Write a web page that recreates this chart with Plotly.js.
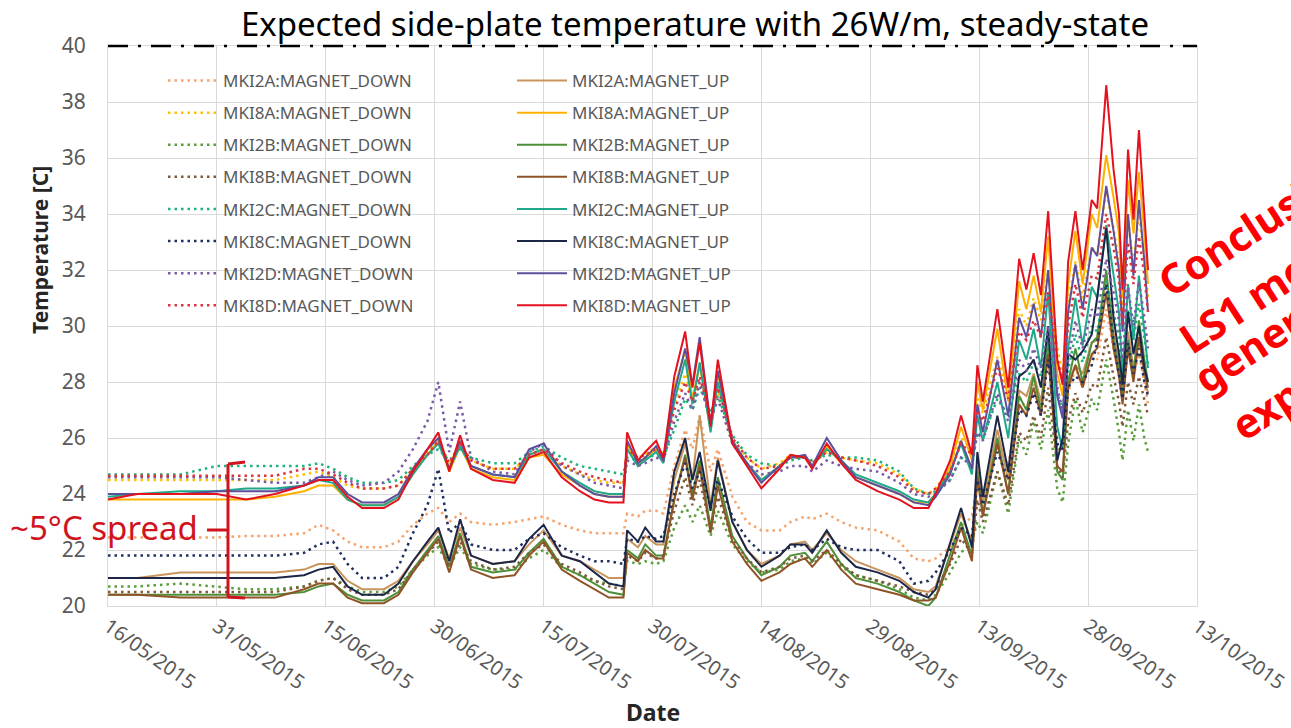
<!DOCTYPE html>
<html>
<head>
<meta charset="utf-8">
<script src="https://cdn.plot.ly/plotly-3.0.1.min.js"></script>
<style>html,body{margin:0;padding:0;background:#fff;}#chart{width:1291px;height:728px;}</style>
</head>
<body>
<div id="chart"></div>
<script>
const dates = [
"2015-05-16","2015-05-20","2015-05-26","2015-05-31","2015-06-04","2015-06-08","2015-06-12","2015-06-14","2015-06-16","2015-06-18",
"2015-06-20","2015-06-23","2015-06-25","2015-06-27","2015-06-29","2015-06-30 12:00","2015-07-02","2015-07-03 12:00","2015-07-05","2015-07-08",
"2015-07-11","2015-07-13","2015-07-15","2015-07-17 12:00","2015-07-20","2015-07-22","2015-07-24","2015-07-26","2015-07-26 12:00","2015-07-28",
"2015-07-29","2015-07-30 12:00","2015-07-31 12:00","2015-08-02","2015-08-03 12:00","2015-08-04 12:00","2015-08-05 12:00","2015-08-07","2015-08-08","2015-08-10",
"2015-08-12","2015-08-14","2015-08-16 12:00","2015-08-18","2015-08-20","2015-08-21","2015-08-23","2015-08-25","2015-08-27","2015-08-30",
"2015-09-02","2015-09-04","2015-09-06","2015-09-07","2015-09-09","2015-09-10 12:00","2015-09-12","2015-09-12 18:00","2015-09-13 12:00","2015-09-15 12:00",
"2015-09-17","2015-09-18 12:00","2015-09-19 12:00","2015-09-20 12:00","2015-09-21 12:00","2015-09-22 12:00","2015-09-23 18:00","2015-09-24 12:00","2015-09-25 06:00","2015-09-26 06:00",
"2015-09-27 06:00","2015-09-28 12:00","2015-09-29 06:00","2015-09-30 12:00","2015-10-01 12:00","2015-10-02 06:00","2015-10-02 18:00","2015-10-03 12:00","2015-10-04 06:00","2015-10-05",
"2015-10-05 18:00","2015-10-06 06:00"
];

const mki2aDown = [
22.45,22.45,22.45,22.45,22.5,22.5,22.6,22.9,22.7,22.3,
22.1,22.1,22.3,22.9,23.3,23.5,23.0,23.3,23.0,22.9,
23.0,23.1,23.2,22.9,22.7,22.6,22.6,22.6,23.3,23.2,
23.4,23.4,23.3,25.0,26.3,25.6,26.8,24.8,25.6,23.9,
23.0,22.7,22.7,23.0,23.2,23.1,23.3,23.0,22.8,22.7,
22.3,21.7,21.6,21.7,22.1,22.8,23.2,24.5,23.7,26.0,
25.0,27.5,27.0,28.0,27.2,28.8,26.0,25.8,27.6,28.5,
27.8,29.0,28.8,30.6,29.2,28.3,27.4,29.3,28.2,29.0,
28.0,27.2];
const mki2aUp = [
21.0,21.0,21.2,21.2,21.2,21.2,21.3,21.5,21.5,20.9,
20.6,20.6,20.9,21.6,22.2,22.7,21.7,22.8,21.8,21.5,
21.6,22.2,22.7,21.8,21.6,21.3,21.0,21.0,22.4,22.1,
22.5,22.2,22.2,24.5,25.8,24.5,26.8,23.6,25.3,23.0,
22.0,21.5,21.8,22.2,22.3,22.0,22.6,22.0,21.6,21.3,
21.0,20.6,20.5,20.7,22.2,23.3,22.3,25.0,23.7,26.3,
24.5,27.7,27.5,28.3,27.3,29.2,25.6,25.6,28.0,28.6,
28.3,29.4,29.5,31.8,29.8,28.6,27.5,29.8,28.5,29.6,
28.2,27.6];
const mki8aDown = [
24.5,24.5,24.5,24.5,24.5,24.5,24.7,24.8,24.6,24.3,
24.2,24.2,24.3,24.9,25.5,26.0,25.0,25.8,25.2,24.9,
24.9,25.4,25.6,25.0,24.7,24.5,24.4,24.4,25.7,25.3,
25.4,25.7,25.4,27.2,28.3,27.3,28.0,26.6,27.7,25.9,
25.3,24.9,25.1,25.4,25.3,25.1,25.5,25.3,25.2,25.1,
24.7,24.2,24.0,24.2,24.9,26.0,25.6,27.4,26.9,28.9,
27.6,30.6,30.0,31.0,30.2,32.0,29.2,28.3,30.8,32.3,
31.0,32.8,32.6,34.8,33.5,32.3,30.6,33.8,32.2,34.0,
32.4,31.0];
const mki8aUp = [
23.8,23.8,23.8,23.8,23.8,23.9,24.1,24.3,24.3,23.8,
23.6,23.6,23.9,24.8,25.4,25.9,24.8,25.7,24.9,24.6,
24.5,25.3,25.4,24.7,24.3,24.0,23.9,23.9,25.8,25.0,
25.3,25.6,25.2,27.8,29.1,27.4,28.6,26.3,28.3,25.8,
25.1,24.5,25.0,25.4,25.3,25.0,25.7,25.1,24.6,24.3,
24.0,23.7,23.7,24.0,25.0,26.4,25.2,28.0,27.0,29.9,
27.3,31.6,30.6,31.8,30.5,33.2,28.3,27.5,31.5,33.4,
31.5,34.0,33.5,36.1,34.6,33.3,31.0,35.2,33.3,35.5,
33.3,31.5];
const mki2bDown = [
20.7,20.7,20.8,20.7,20.6,20.6,20.7,20.9,21.0,20.7,
20.5,20.5,20.7,21.3,21.8,22.1,21.4,22.1,21.5,21.3,
21.3,21.7,22.0,21.4,21.1,20.9,20.8,20.7,21.6,21.5,
21.6,21.5,21.6,22.8,23.6,23.0,23.6,22.5,23.4,22.2,
21.6,21.2,21.3,21.6,21.7,21.5,21.9,21.4,21.1,20.9,
20.6,20.3,20.2,20.4,21.2,21.9,22.3,23.0,22.6,24.8,
23.3,26.0,25.4,26.6,25.6,27.0,24.2,23.7,25.8,27.4,
26.2,27.4,27.0,28.8,27.4,26.2,25.2,27.0,25.9,27.2,
26.0,25.5];
const mki2bUp = [
20.4,20.4,20.4,20.4,20.4,20.4,20.5,20.7,20.8,20.4,
20.2,20.2,20.5,21.3,22.0,22.5,21.4,22.6,21.4,21.2,
21.3,21.9,22.4,21.4,21.1,20.8,20.5,20.4,22.0,21.7,
22.2,21.8,21.8,23.8,25.4,24.0,25.2,22.8,24.6,22.5,
21.7,21.1,21.4,21.8,21.9,21.6,22.3,21.5,21.0,20.8,
20.5,20.2,20.0,20.3,21.8,23.0,21.8,24.8,23.3,26.0,
24.0,27.5,27.0,28.2,27.0,29.6,24.8,24.5,28.0,29.2,
28.0,29.4,29.6,32.0,29.5,28.4,27.5,29.5,28.2,30.2,
28.8,28.0];
const mki8bDown = [
20.5,20.5,20.5,20.5,20.5,20.5,20.7,20.9,21.0,20.6,
20.4,20.4,20.6,21.3,21.9,22.3,21.4,22.3,21.6,21.3,
21.4,21.9,22.2,21.5,21.2,20.9,20.7,20.6,21.8,21.6,
21.9,21.7,21.8,23.4,24.6,23.6,24.5,22.8,23.9,22.4,
21.7,21.2,21.4,21.7,21.8,21.6,22.0,21.5,21.1,20.9,
20.7,20.5,20.4,20.6,21.5,22.4,21.9,23.8,23.0,24.8,
23.6,26.2,25.9,26.8,26.0,27.8,25.0,24.6,26.6,27.6,
26.9,27.9,27.8,29.6,28.2,27.3,26.4,28.0,27.2,28.2,
27.3,26.8];
const mki8bUp = [
20.4,20.4,20.3,20.3,20.3,20.3,20.6,20.8,20.8,20.3,
20.1,20.1,20.4,21.2,21.9,22.4,21.2,22.5,21.3,21.0,
21.1,21.8,22.3,21.3,20.9,20.6,20.3,20.3,21.9,21.6,
22.0,21.7,21.7,23.8,25.3,23.8,25.0,22.6,24.3,22.3,
21.5,20.9,21.2,21.5,21.7,21.4,22.0,21.3,20.8,20.6,
20.4,20.2,20.2,20.3,21.6,22.8,21.6,24.6,23.2,25.8,
24.0,27.2,26.8,27.8,26.8,29.0,25.0,24.8,27.8,28.6,
27.8,29.0,29.2,31.2,29.2,28.2,27.2,29.2,28.0,29.6,
28.4,27.8];
const mki2cDown = [
24.7,24.7,24.7,25.0,25.0,25.0,25.0,25.1,24.9,24.6,
24.4,24.4,24.5,25.0,25.4,25.6,25.2,25.6,25.3,25.1,
25.1,25.5,25.7,25.3,25.0,24.9,24.8,24.7,25.3,25.2,
25.3,25.4,25.3,26.3,27.4,27.0,27.8,26.9,27.5,26.1,
25.4,25.1,25.0,25.2,25.3,25.2,25.4,25.3,25.3,25.2,
24.8,24.2,24.0,24.1,24.5,25.3,25.1,26.2,26.0,27.4,
26.8,28.3,28.0,28.7,28.2,29.5,27.6,27.0,28.4,29.7,
28.7,30.0,29.8,31.6,30.5,29.6,28.2,30.6,29.5,30.8,
29.6,28.6];
const mki2cUp = [
23.9,24.0,24.1,24.1,24.2,24.2,24.3,24.5,24.4,23.8,
23.6,23.6,23.9,24.7,25.4,25.8,24.9,25.7,25.0,24.7,
24.6,25.4,25.6,24.8,24.4,24.1,24.0,24.0,25.6,25.0,
25.2,25.5,25.1,27.3,28.8,27.2,28.7,26.2,28.0,25.8,
25.1,24.5,25.0,25.3,25.3,25.0,25.6,25.2,24.7,24.4,
24.1,23.8,23.7,24.0,24.8,25.8,24.7,26.8,25.9,28.0,
26.0,29.5,28.8,29.9,28.5,31.2,26.4,25.6,29.2,31.0,
29.3,31.4,31.0,33.6,31.8,30.5,28.2,31.5,29.5,31.8,
29.8,28.5];
const mki8cDown = [
21.8,21.8,21.8,21.8,21.8,21.8,21.9,22.2,22.3,21.5,
21.0,21.0,21.4,22.6,23.6,24.9,22.6,23.0,22.2,22.0,
22.0,22.4,22.6,22.1,21.8,21.6,21.6,21.5,22.4,22.3,
22.5,22.4,22.5,24.0,25.1,24.2,24.8,23.6,24.5,23.2,
22.4,21.9,21.9,22.1,22.2,22.0,22.4,22.1,22.0,22.0,
21.6,20.8,20.9,21.2,22.0,22.8,22.5,24.5,23.6,25.5,
24.5,27.0,26.8,27.6,26.8,28.8,25.8,25.6,27.8,28.2,
28.0,28.6,29.4,31.5,29.5,28.3,27.4,29.4,28.3,29.2,
28.0,27.5];
const mki8cUp = [
21.0,21.0,21.0,21.0,21.0,21.0,21.1,21.3,21.4,20.7,
20.4,20.4,20.8,21.6,22.3,22.8,21.6,23.1,21.8,21.5,
21.6,22.4,22.9,21.8,21.6,21.2,20.8,20.7,22.7,22.3,
22.8,22.3,22.3,24.8,26.0,24.5,25.5,23.4,25.2,23.0,
22.0,21.4,21.8,22.2,22.2,21.9,22.7,21.9,21.4,21.2,
20.9,20.5,20.3,20.6,22.3,23.5,22.1,25.5,23.9,26.8,
24.8,28.2,28.4,28.8,27.8,30.0,25.2,26.0,29.0,28.8,
29.1,29.7,31.0,33.5,30.3,29.0,27.9,30.5,29.0,30.0,
28.5,28.0];
const mki2dDown = [
24.6,24.6,24.6,24.6,24.5,24.4,24.4,24.6,24.8,24.5,
24.3,24.4,24.8,25.6,26.6,28.0,25.5,27.3,25.3,24.8,
24.7,25.5,25.8,25.0,24.7,24.4,24.3,24.2,25.2,25.0,
25.1,25.3,25.2,26.6,27.6,27.0,28.0,26.6,27.4,25.8,
25.1,24.7,24.8,25.0,25.0,24.8,25.2,25.0,24.9,24.8,
24.4,24.0,23.9,24.0,24.5,25.3,25.0,26.2,25.9,27.6,
26.6,28.8,28.4,29.2,28.5,30.0,27.8,27.0,28.8,30.2,
29.2,30.6,30.3,32.4,31.2,30.2,28.8,31.4,30.0,31.6,
30.3,29.2];
const mki2dUp = [
24.0,24.0,24.0,24.1,24.1,24.1,24.3,24.6,24.6,24.0,
23.7,23.7,24.0,24.9,25.6,26.0,24.9,25.9,25.0,24.7,
24.6,25.6,25.8,24.8,24.3,24.0,23.9,23.9,25.9,25.1,
25.3,25.7,25.2,27.6,29.2,27.9,29.6,26.5,28.4,25.9,
25.1,24.4,25.0,25.3,25.4,25.0,26.0,25.2,24.6,24.3,
24.0,23.7,23.6,23.9,24.7,25.9,24.9,27.2,26.2,28.8,
26.8,30.3,29.6,30.8,29.6,32.0,27.5,26.7,30.5,32.2,
30.6,32.8,32.5,35.0,33.4,32.0,29.8,34.0,31.8,34.5,
32.3,30.5];
const mki8dDown = [
24.65,24.65,24.65,24.65,24.65,24.65,24.9,24.9,24.7,24.4,
24.2,24.2,24.3,24.9,25.4,25.9,25.1,25.8,25.2,24.9,
24.9,25.4,25.6,25.1,24.8,24.6,24.5,24.4,25.6,25.3,
25.4,25.6,25.4,27.0,28.0,27.3,28.2,26.8,27.8,26.0,
25.3,24.9,25.0,25.3,25.3,25.1,25.5,25.3,25.2,25.0,
24.6,24.1,24.0,24.2,24.8,25.8,25.4,27.0,26.6,28.5,
27.4,29.8,29.5,30.2,29.6,31.2,28.8,28.0,30.0,31.5,
30.3,31.8,31.7,34.0,32.8,31.6,30.0,33.0,31.5,33.2,
31.8,30.5];
const mki8dUp = [
23.8,24.0,24.0,24.0,23.8,24.0,24.3,24.5,24.5,23.9,
23.5,23.5,23.8,24.8,25.6,26.2,24.8,26.1,24.9,24.5,
24.4,25.3,25.5,24.6,24.1,23.8,23.7,23.7,26.2,25.2,
25.5,25.9,25.3,28.2,29.8,27.8,29.4,26.4,28.8,25.8,
25.0,24.2,24.9,25.4,25.3,24.9,25.8,25.1,24.5,24.1,
23.8,23.5,23.5,24.0,25.2,26.8,25.4,28.6,27.3,30.6,
27.8,32.4,31.3,32.6,31.1,34.1,28.8,27.9,32.3,34.1,
32.0,34.5,34.2,38.6,35.6,34.0,31.3,36.3,33.8,37.0,
34.0,32.0];

const seriesNames = [
"MKI2A:MAGNET_DOWN","MKI2A:MAGNET_UP","MKI8A:MAGNET_DOWN","MKI8A:MAGNET_UP",
"MKI2B:MAGNET_DOWN","MKI2B:MAGNET_UP","MKI8B:MAGNET_DOWN","MKI8B:MAGNET_UP",
"MKI2C:MAGNET_DOWN","MKI2C:MAGNET_UP","MKI8C:MAGNET_DOWN","MKI8C:MAGNET_UP",
"MKI2D:MAGNET_DOWN","MKI2D:MAGNET_UP","MKI8D:MAGNET_DOWN","MKI8D:MAGNET_UP"
];
const seriesValues = [
mki2aDown, mki2aUp, mki8aDown, mki8aUp,
mki2bDown, mki2bUp, mki8bDown, mki8bUp,
mki2cDown, mki2cUp, mki8cDown, mki8cUp,
mki2dDown, mki2dUp, mki8dDown, mki8dUp
];
const seriesColors = [
"#f4a46c","#c9955c","#ffc000","#ffb000",
"#5a9e3c","#4e8f3a","#7f5a3a","#8f5325",
"#1db37a","#20a88a","#1f2f5f","#1c2747",
"#7a5aa8","#5e4e9c","#d9343f","#e3121e"
];

const traces = seriesNames.map((name, i) => {
  const down = name.endsWith("DOWN");
  return {
    type: "scatter", mode: "lines", x: dates, y: seriesValues[i], name: name,
    legend: down ? "legend" : "legend2", legendgroup: name,
    line: { color: seriesColors[i], width: down ? 2.5 : 2, dash: down ? "2.5px,4px" : "solid" },
    hoverinfo: "skip"
  };
});

const px2x = p => (p - 108) / 1089;
const px2y = p => (606 - p) / 560;

const layout = {
  width: 1291, height: 728,
  margin: { l: 108, r: 94, t: 46, b: 122 },
  paper_bgcolor: "#fff", plot_bgcolor: "#fff",
  font: { family: "Noto Sans, sans-serif", color: "#595959" },
  title: { text: "Expected side-plate temperature with 26W/m, steady-state",
    font: { size: 33, color: "#000" }, xref: "paper", x: 0.539, xanchor: "center",
    yref: "container", y: 0.966, yanchor: "middle" },
  xaxis: { type: "date", range: ["2015-05-16", "2015-10-13"], tick0: "2015-05-16",
    dtick: 15 * 86400000, tickformat: "%d/%m/%Y", tickangle: 35,
    tickfont: { size: 20, color: "#595959" }, showgrid: true, gridcolor: "#d9d9d9",
    showline: true, linecolor: "#d9d9d9", mirror: true, zeroline: false, ticks: "" },
  yaxis: { range: [20, 40], dtick: 2, tickfont: { size: 21, color: "#595959" },
    gridcolor: "#d9d9d9", showline: true, linecolor: "#d9d9d9", mirror: true,
    zeroline: false, ticks: "", ticklabelstandoff: 17 },
  showlegend: true,
  legend: { x: px2x(163), xanchor: "left", y: px2y(63), yanchor: "top",
    bgcolor: "rgba(0,0,0,0)", font: { size: 17, color: "#595959" },
    itemwidth: 50, tracegroupgap: 7 },
  legend2: { x: px2x(512), xanchor: "left", y: px2y(63), yanchor: "top",
    bgcolor: "rgba(0,0,0,0)", font: { size: 17, color: "#595959" },
    itemwidth: 50, tracegroupgap: 7 },
  shapes: [
    { type: "line", xref: "paper", yref: "paper", x0: 0, x1: 1, y0: 1, y1: 1,
      line: { color: "#000", width: 2.5, dash: "20px,10px,3px,10px" } },
    { type: "line", xref: "paper", yref: "paper", x0: px2x(228), x1: px2x(228), y0: px2y(464), y1: px2y(597),
      line: { color: "#d0141e", width: 3 } },
    { type: "line", xref: "paper", yref: "paper", x0: px2x(228), x1: px2x(245), y0: px2y(464), y1: px2y(462),
      line: { color: "#d0141e", width: 3 } },
    { type: "line", xref: "paper", yref: "paper", x0: px2x(228), x1: px2x(245), y0: px2y(597), y1: px2y(598),
      line: { color: "#d0141e", width: 3 } },
    { type: "line", xref: "paper", yref: "paper", x0: px2x(207), x1: px2x(228), y0: px2y(530), y1: px2y(530),
      line: { color: "#d0141e", width: 3 } }
  ],
  annotations: [
    { text: "<b>Date</b>", xref: "paper", yref: "paper", x: 0.5, y: px2y(712),
      xanchor: "center", yanchor: "middle", showarrow: false, font: { size: 23, color: "#262626" } },
    { text: "<b>Temperature [C]</b>", xref: "paper", yref: "paper", x: px2x(40), y: px2y(250),
      xanchor: "center", yanchor: "middle", textangle: -90, showarrow: false, font: { size: 21, color: "#262626" } },
    { text: "~5°C spread", xref: "paper", yref: "paper", x: px2x(200), y: px2y(527),
      xanchor: "right", yanchor: "middle", showarrow: false, font: { size: 33, color: "#d0141e" } },
    { text: "<b>Conclusion:</b>", xref: "paper", yref: "paper", x: px2x(1144), y: px2y(311),
      xanchor: "left", yanchor: "bottom", textangle: -33, showarrow: false, font: { size: 41, color: "#ff0000" } },
    { text: "<b>LS1 modifications</b>", xref: "paper", yref: "paper", x: px2x(1165), y: px2y(368),
      xanchor: "left", yanchor: "bottom", textangle: -33, showarrow: false, font: { size: 41, color: "#ff0000" } },
    { text: "<b>generally as</b>", xref: "paper", yref: "paper", x: px2x(1180), y: px2y(408),
      xanchor: "left", yanchor: "bottom", textangle: -33, showarrow: false, font: { size: 41, color: "#ff0000" } },
    { text: "<b>expected</b>", xref: "paper", yref: "paper", x: px2x(1217), y: px2y(455),
      xanchor: "left", yanchor: "bottom", textangle: -33, showarrow: false, font: { size: 41, color: "#ff0000" } }
  ]
};

Plotly.newPlot("chart", traces, layout, { displayModeBar: false, staticPlot: true });
</script>
</body>
</html>
